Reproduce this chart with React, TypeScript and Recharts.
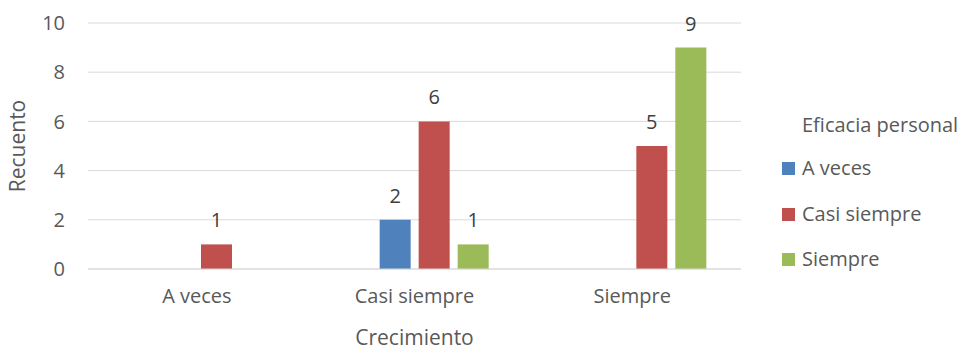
import { BarChart, Bar, XAxis, YAxis, CartesianGrid, LabelList, Label } from "recharts";

const categories = ["A veces", "Casi siempre", "Siempre"];
// empty series kept from the source sheet (occupies the first slot in each group)
const vacio = [null, null, null];
const aVeces = [0, 2, 0];
const casiSiempre = [1, 6, 5];
const siempre = [0, 1, 9];
const yTicks = [0, 2, 4, 6, 8, 10];

const seriesInfo = [
  { key: "aVeces", name: "A veces", color: "#4F81BD" },
  { key: "casiSiempre", name: "Casi siempre", color: "#C0504D" },
  { key: "siempre", name: "Siempre", color: "#9BBB59" },
];

const data = categories.map((c, i) => ({
  name: c,
  vacio: vacio[i],
  aVeces: aVeces[i] || null,
  casiSiempre: casiSiempre[i] || null,
  siempre: siempre[i] || null,
}));

const FONT = "'Open Sans', sans-serif";
const TEXT = "#595959";
const itemY = [168, 214, 259];

function LegendBox() {
  return (
    <div style={{ position: "absolute", left: 0, top: 0, fontFamily: FONT, color: TEXT, fontSize: 20 }}>
      <div style={{ position: "absolute", left: 802, top: 125 - 14, whiteSpace: "nowrap", lineHeight: "28px" }}>
        Eficacia personal
      </div>
      {seriesInfo.map((s, i) => (
        <div key={s.key}>
          <span
            style={{ position: "absolute", left: 782, top: itemY[i] - 6.5, width: 13, height: 13, background: s.color }}
          />
          <span style={{ position: "absolute", left: 802, top: itemY[i] - 14, lineHeight: "28px", whiteSpace: "nowrap" }}>
            {s.name}
          </span>
        </div>
      ))}
    </div>
  );
}

export default function App() {
  return (
    <div style={{ position: "absolute", left: 0, top: 0, width: 966, height: 351, background: "#fff" }}>
      <BarChart
        width={966}
        height={351}
        data={data}
        margin={{ top: 23, right: 225, left: 0, bottom: 0 }}
        barSize={31}
        barGap={8}
        style={{ fontFamily: FONT }}
      >
        <CartesianGrid vertical={false} stroke="#D9D9D9" strokeWidth={1} />
        <XAxis
          dataKey="name"
          height={82}
          axisLine={{ stroke: "#D9D9D9" }}
          tickLine={false}
          tickSize={0}
          tickMargin={20}
          tick={{ fill: TEXT, fontSize: 20 }}
        >
          <Label value="Crecimiento" position="insideBottom" offset={6} fill={TEXT} fontSize={21} />
        </XAxis>
        <YAxis
          width={88}
          domain={[0, 10]}
          ticks={yTicks}
          axisLine={false}
          tickLine={false}
          tickSize={0}
          tickMargin={23}
          tick={{ fill: TEXT, fontSize: 20 }}
        >
          <Label
            value="Recuento"
            angle={-90}
            position="insideLeft"
            offset={18}
            fill={TEXT}
            fontSize={21}
            style={{ textAnchor: "middle" }}
          />
        </YAxis>
        <Bar dataKey="vacio" fill="transparent" isAnimationActive={false} />
        {seriesInfo.map((s) => (
          <Bar key={s.key} dataKey={s.key} name={s.name} fill={s.color} isAnimationActive={false}>
            <LabelList dataKey={s.key} position="top" offset={17} fill="#404040" fontSize={20} />
          </Bar>
        ))}
      </BarChart>
      <LegendBox />
    </div>
  );
}
